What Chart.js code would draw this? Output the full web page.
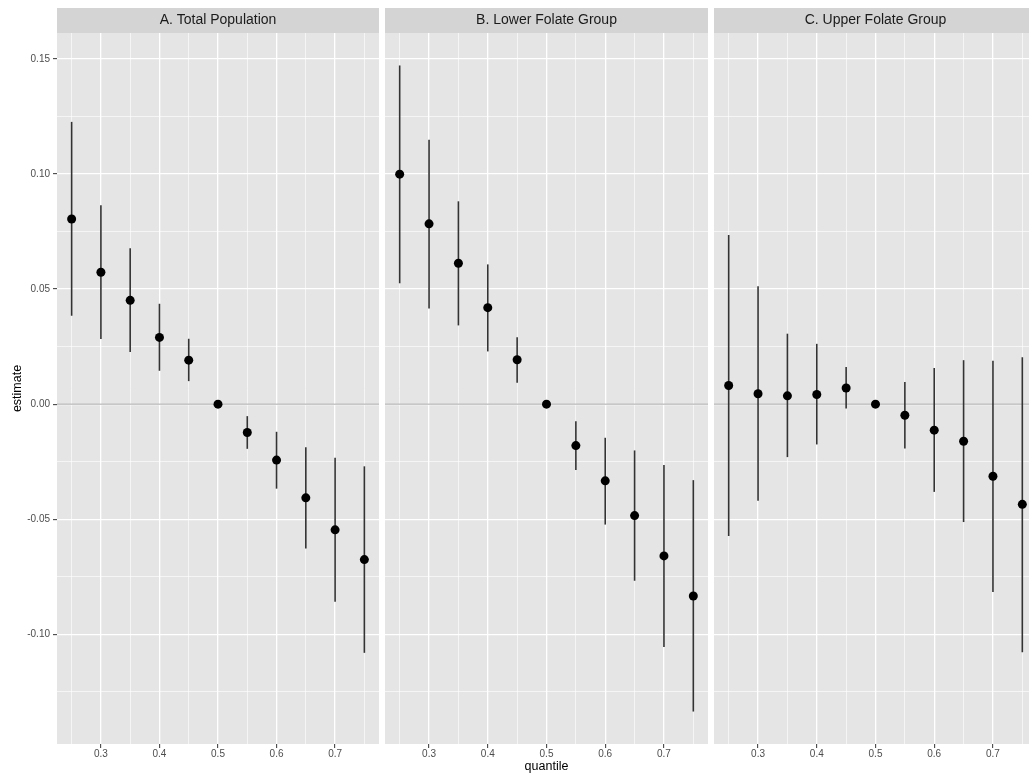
<!DOCTYPE html>
<html>
<head>
<meta charset="utf-8">
<script src="https://cdn.jsdelivr.net/npm/chart.js@4.4.1/dist/chart.umd.min.js"></script>
<style>
html,body{margin:0;padding:0;width:1029px;height:777px;overflow:hidden;background:#ffffff;}
canvas.p{position:absolute;top:0;}
</style>
</head>
<body>
<canvas id="cA" class="p" width="380" height="777" style="left:0px"></canvas>
<canvas id="cB" class="p" width="324" height="777" style="left:385px"></canvas>
<canvas id="cC" class="p" width="324" height="777" style="left:714px"></canvas>
<script>
// ---- data ----
const quantiles = [0.25, 0.30, 0.35, 0.40, 0.45, 0.50, 0.55, 0.60, 0.65, 0.70, 0.75];

const panelTitles = ['A. Total Population', 'B. Lower Folate Group', 'C. Upper Folate Group'];

const estA = [0.0804, 0.0573, 0.0451, 0.0290, 0.0191, 0.0, -0.0123, -0.0243, -0.0407, -0.0546, -0.0675];
const lowA = [0.0384, 0.0283, 0.0227, 0.0145, 0.0100, 0.0, -0.0194, -0.0367, -0.0627, -0.0858, -0.1080];
const upA  = [0.1226, 0.0864, 0.0677, 0.0436, 0.0284, 0.0, -0.0052, -0.0120, -0.0187, -0.0233, -0.0270];

const estB = [0.0999, 0.0783, 0.0612, 0.0419, 0.0193, 0.0, -0.0180, -0.0333, -0.0484, -0.0659, -0.0833];
const lowB = [0.0525, 0.0415, 0.0342, 0.0229, 0.0093, 0.0, -0.0286, -0.0523, -0.0767, -0.1055, -0.1335];
const upB  = [0.1471, 0.1148, 0.0881, 0.0607, 0.0291, 0.0, -0.0074, -0.0146, -0.0201, -0.0264, -0.0330];

const estC = [0.0081, 0.0045, 0.0036, 0.0042, 0.0070, 0.0, -0.0048, -0.0113, -0.0161, -0.0313, -0.0435];
const lowC = [-0.0573, -0.0420, -0.0230, -0.0175, -0.0019, 0.0, -0.0193, -0.0381, -0.0512, -0.0816, -0.1077];
const upC  = [0.0735, 0.0512, 0.0306, 0.0262, 0.0161, 0.0, 0.0096, 0.0157, 0.0191, 0.0188, 0.0204];

const xTicksMajor = [0.3, 0.4, 0.5, 0.6, 0.7];
const xTicksMinor = [0.25, 0.35, 0.45, 0.55, 0.65, 0.75];
const yTicksMajor = [-0.10, -0.05, 0.00, 0.05, 0.10, 0.15];
const yTicksMinor = [-0.125, -0.075, -0.025, 0.025, 0.075, 0.125];

const xTitle = 'quantile';
const yTitle = 'estimate';

// ---- rendering ----
const FAMILY = '"Liberation Sans", Arial, Helvetica, sans-serif';
Chart.defaults.font.family = FAMILY;

const X_MIN = 0.225, X_MAX = 0.775;
const Y_MIN = -0.1476, Y_MAX = 0.1612;

function isIn(arr, v) { return arr.some(a => Math.abs(a - v) < 1e-9); }

const panelPlugin = {
  id: 'panel',
  beforeDraw(chart, args, opts) {
    const {ctx, chartArea: a} = chart;
    ctx.save();
    ctx.fillStyle = '#E5E5E5';
    ctx.fillRect(a.left, a.top, a.right - a.left, a.bottom - a.top);
    ctx.fillStyle = '#D4D4D4';
    ctx.fillRect(a.left, a.top - 25, a.right - a.left, 25);
    ctx.fillStyle = '#1A1A1A';
    ctx.font = '14px ' + FAMILY;
    ctx.textAlign = 'center';
    ctx.textBaseline = 'middle';
    ctx.fillText(opts.text, (a.left + a.right) / 2, a.top - 12.5);
    ctx.restore();
  },
  beforeDatasetsDraw(chart) {
    const {ctx, chartArea: a, scales: {x, y}} = chart;
    ctx.save();
    ctx.beginPath();
    ctx.rect(a.left, a.top, a.right - a.left, a.bottom - a.top);
    ctx.clip();
    const y0 = y.getPixelForValue(0);
    ctx.beginPath();
    ctx.strokeStyle = '#ABABAB';
    ctx.lineWidth = 1;
    ctx.moveTo(a.left, y0);
    ctx.lineTo(a.right, y0);
    ctx.stroke();
    chart.data.datasets.forEach(ds => {
      ds.data.forEach((p, i) => {
        const px = x.getPixelForValue(p.x);
        ctx.beginPath();
        ctx.strokeStyle = '#333333';
        ctx.lineWidth = 1.6;
        ctx.moveTo(px, y.getPixelForValue(ds.lower[i]));
        ctx.lineTo(px, y.getPixelForValue(ds.upper[i]));
        ctx.stroke();
      });
    });
    ctx.restore();
  }
};

function makePanel(id, title, est, low, up, first, showX) {
  return new Chart(document.getElementById(id), {
    type: 'scatter',
    data: {
      datasets: [{
        data: quantiles.map((q, i) => ({x: q, y: est[i]})),
        lower: low,
        upper: up,
        backgroundColor: '#000000',
        borderColor: '#000000',
        borderWidth: 0,
        pointRadius: 4.5,
        pointHoverRadius: 4.5
      }]
    },
    plugins: [panelPlugin],
    options: {
      responsive: false,
      animation: false,
      events: [],
      layout: {autoPadding: false, padding: {top: 33, left: 0, right: 1, bottom: 0}},
      plugins: {
        legend: {display: false},
        tooltip: {enabled: false},
        panel: {text: title}
      },
      scales: {
        x: {
          type: 'linear',
          min: X_MIN,
          max: X_MAX,
          afterBuildTicks: s => {
            s.ticks = xTicksMajor.concat(xTicksMinor).sort((a, b) => a - b).map(v => ({value: v}));
          },
          afterFit: s => { s.height = 33; s.paddingLeft = 0; s.paddingRight = 0; },
          border: {display: false},
          grid: {
            color: '#FFFFFF',
            lineWidth: c => (c.tick && isIn(xTicksMajor, c.tick.value)) ? 1.3 : 0.6,
            drawTicks: true,
            tickLength: 4,
            tickWidth: 1,
            tickColor: c => (c.tick && isIn(xTicksMajor, c.tick.value)) ? '#333333' : 'rgba(0,0,0,0)'
          },
          ticks: {
            autoSkip: false,
            maxRotation: 0,
            minRotation: 0,
            padding: 0,
            color: '#4D4D4D',
            font: {size: 10, family: FAMILY},
            callback: v => isIn(xTicksMajor, v) ? v.toFixed(1) : ''
          },
          title: {
            display: showX,
            text: xTitle,
            color: '#000000',
            font: {size: 12.5, family: FAMILY},
            padding: {top: 0, bottom: 2.5}
          }
        },
        y: {
          type: 'linear',
          min: Y_MIN,
          max: Y_MAX,
          afterBuildTicks: s => {
            s.ticks = yTicksMajor.concat(yTicksMinor).sort((a, b) => a - b).map(v => ({value: v}));
          },
          afterFit: s => { s.width = first ? 57 : 0; s.paddingTop = 0; s.paddingBottom = 0; },
          border: {display: false},
          grid: {
            color: '#FFFFFF',
            lineWidth: c => (c.tick && isIn(yTicksMajor, c.tick.value)) ? 1.3 : 0.6,
            drawTicks: first,
            tickLength: 4,
            tickWidth: 1,
            tickColor: c => (c.tick && isIn(yTicksMajor, c.tick.value)) ? '#333333' : 'rgba(0,0,0,0)'
          },
          ticks: {
            display: first,
            padding: 3,
            color: '#4D4D4D',
            font: {size: 10, family: FAMILY},
            callback: v => isIn(yTicksMajor, v) ? v.toFixed(2) : ''
          },
          title: {
            display: first,
            text: yTitle,
            color: '#000000',
            font: {size: 12.5, family: FAMILY},
            padding: {top: 10.5, bottom: 0}
          }
        }
      }
    }
  });
}

makePanel('cA', panelTitles[0], estA, lowA, upA, true, false);
makePanel('cB', panelTitles[1], estB, lowB, upB, false, true);
makePanel('cC', panelTitles[2], estC, lowC, upC, false, false);
</script>
</body>
</html>
